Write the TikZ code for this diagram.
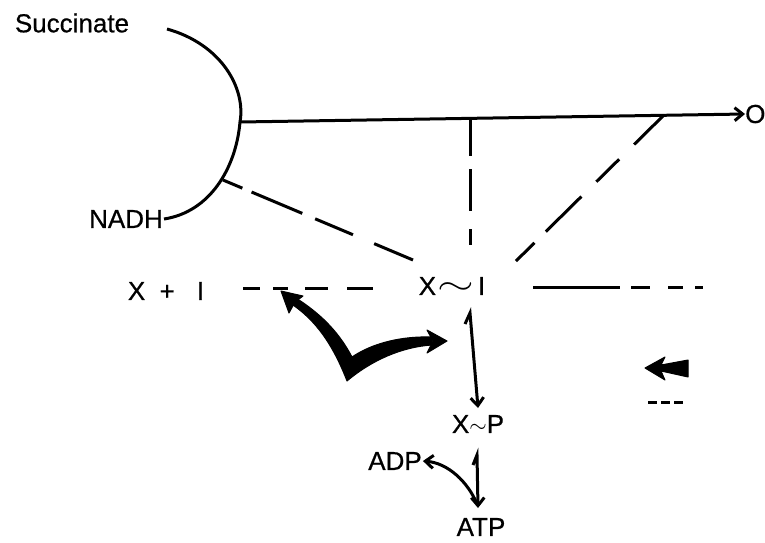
\documentclass[tikz,border=0pt]{standalone}
\usepackage{fontspec}
\usepackage{graphicx}
\setmainfont[FakeBold=0.6,AutoFakeBold=0.6]{Liberation Sans}
\usetikzlibrary{arrows.meta}

\newcommand{\bigtil}{\scalebox{1.9}[1.3]{$\sim$}}
\newcommand{\smtil}{\scalebox{0.9}[0.9]{$\sim$}}

\tikzset{
  lbl/.style={font=\fontsize{26}{28}\selectfont\bfseries, inner sep=1pt},
  ln/.style={line width=3pt},
  barb/.style={-{Straight Barb[length=8pt,width=13pt]}},
  blob/.style={fill=black, draw=black, line width=1pt, line join=round}
}

\begin{document}
\begin{tikzpicture}[x=1pt,y=-1pt]
\useasboundingbox (0,0) rectangle (765,542);

% labels
\node[lbl] (succ) at (72,23) {Succinate};
\node[lbl, anchor=west, inner sep=0pt] (oxy) at (745,114) {O};
\node[lbl, anchor=east] (nadh) at (164,219) {NADH};
\node[lbl] (xi) at (166,291) {X\hspace{0.55em}+\hspace{0.85em}I};
\node[lbl] (xti) at (452,286) {X\hspace{0.05em}\bigtil\hspace{0.15em}I};
\node[lbl] (xtp) at (478,424) {X\smtil P};
\node[lbl] (adp) at (395,461) {ADP};
\node[lbl] (atp) at (481,527) {ATP};

% points on the carrier arc
\coordinate (arctop) at (167,29);
\coordinate (arcmid) at (240,122);
\coordinate (arcdash) at (223,180);
\coordinate (vtop) at (470,120);
\coordinate (dtop) at (664,115);

\draw[ln] (arctop) .. controls (221,44) and (246,88) .. (arcmid)
  .. controls (236,168) and (210,212) .. (nadh.east);
\draw[ln, barb] (arcmid) -- (oxy.west);

% dashed links
\draw[ln, dash pattern=on 36pt off 13pt on 42pt off 18pt on 17pt off 30pt] (vtop) -- (470,245);
\draw[ln, dash pattern=on 42pt off 21pt on 32pt off 21pt on 50pt off 16pt on 26pt off 30pt] (dtop) -- (515,262);
\draw[ln, dash pattern=on 21pt off 10pt on 55pt off 14pt on 41pt off 23pt on 44pt off 30pt] (arcdash) -- (413,260);
\draw[ln, dash pattern=on 17pt off 13pt on 15pt off 17pt on 23pt off 19pt on 26pt off 30pt] (243,288) -- (373,288);
\draw[ln] (533,287) -- (620,287);
\draw[ln, dash pattern=on 19pt off 18pt on 15pt off 12pt on 8pt off 20pt] (631,287) -- (703,287);

% coupling arrow
\coordinate (vee) at (347,381);
\fill[blob] (vee) .. controls (333,345) and (316,320) .. (290,303)
  -- (296,298) .. controls (318,312) and (338,330) .. (352,357)
  .. controls (374,342) and (404,336) .. (432,337)
  -- (432,345) .. controls (402,347) and (372,360) .. (vee) -- cycle;
\fill[blob] (281,291) -- (303,296) -- (295,302) -- (289,313) -- cycle;
\fill[blob] (447,341) -- (427,330) -- (433,341) -- (427,353) -- cycle;

% phosphorylation
\draw[ln, barb] (465,324) -- (470,313) -- (478,408);
\draw[ln, barb] (473,465) -- (477,455) -- (478,508);
\draw[ln, barb] (477,504) .. controls (468,482) and (448,463) .. (adp.east);

% key
\fill[blob] (645,368) -- (665,357) -- (661,365) -- (688,360) -- (688,377)
  -- (661,371) -- (665,380) -- cycle;
\draw[line width=3pt, dash pattern=on 9pt off 4pt] (648,402) -- (686,402);
\end{tikzpicture}
\end{document}
